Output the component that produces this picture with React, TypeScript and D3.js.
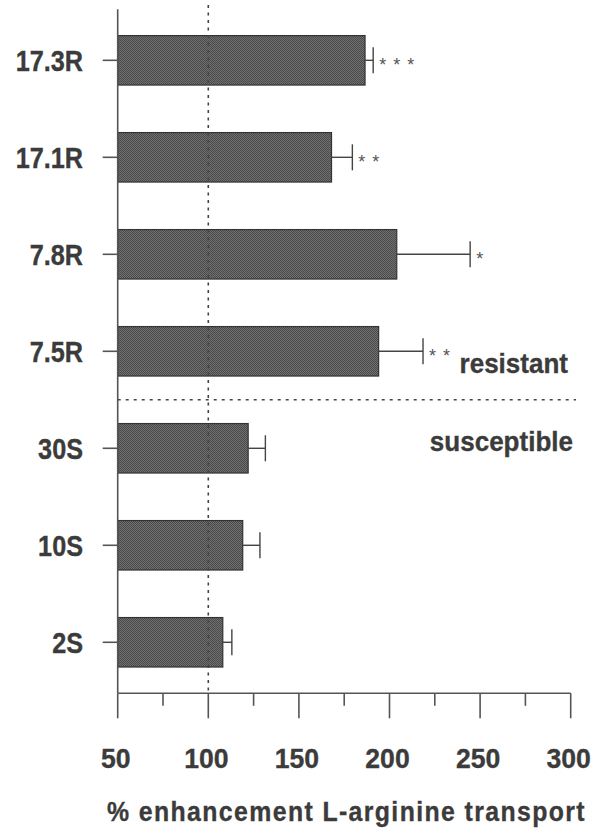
import React from "react";
import * as d3 from "d3";

// Cell lines, mean % enhancement and upper error limit, significance marks
const lines = ["17.3R", "17.1R", "7.8R", "7.5R", "30S", "10S", "2S"];
const means = [186.5, 168, 204, 194, 122, 119, 108];
const errors = [4.5, 11.5, 40.5, 24.5, 9.5, 9.5, 5];
const stars = ["* * *", "* *", "*", "* *", "", "", ""];
const majorTicks = [50, 100, 150, 200, 250, 300];
const minorTicks = [75, 125, 175, 225, 275];
const groupLabels = ["resistant", "susceptible"];
const baseline = 100;

const W = 603;
const H = 830;
const FONT = "'Liberation Sans', Arial, Helvetica, sans-serif";
const INK = "#3b3b3b";

// Bold label, horizontally condensed around its anchor point
function CText({
  x,
  y,
  size,
  sx = 1,
  anchor = "start",
  spacing = 0,
  children,
}: {
  x: number;
  y: number;
  size: number;
  sx?: number;
  anchor?: string;
  spacing?: number;
  children: React.ReactNode;
}) {
  return (
    <text
      transform={`translate(${x},${y}) scale(${sx},1)`}
      textAnchor={anchor}
      fontFamily={FONT}
      fontWeight="bold"
      fontSize={size}
      letterSpacing={spacing}
      fill={INK}
      stroke={INK}
      strokeWidth={0.35}
    >
      {children}
    </text>
  );
}

export default function App() {
  const x = d3.scaleLinear().domain([50, 300]).range([117.7, 570.7]);
  const y = d3
    .scaleBand<string>()
    .domain(lines)
    .range([9.3, 693.3])
    .paddingInner(0.49)
    .paddingOuter(0.271);
  const bw = y.bandwidth();
  const axisY = 693.3;
  const axisTop = 9.3;
  const sepY = (y("7.5R")! + bw + y("30S")!) / 2;

  return (
    <svg
      width={W}
      height={H}
      viewBox={`0 0 ${W} ${H}`}
      style={{ position: "absolute", left: 0, top: 0, background: "#fff" }}
    >
      <defs>
        <pattern id="stipple" width={2} height={2} patternUnits="userSpaceOnUse">
          <rect width={2} height={2} fill="#707070" />
          <rect width={1} height={1} fill="#4a4a4a" />
          <rect x={1} y={1} width={1} height={1} fill="#4a4a4a" />
        </pattern>
      </defs>

      {/* bars */}
      {lines.map((l, i) => (
        <rect
          key={l}
          x={x(50)}
          y={y(l)!}
          width={x(means[i]) - x(50)}
          height={bw}
          fill="url(#stipple)"
          stroke="#333"
          strokeWidth={1.2}
        />
      ))}

      {/* 100% reference line */}
      <line
        x1={x(baseline)}
        x2={x(baseline)}
        y1={5}
        y2={axisY}
        stroke="#444"
        strokeWidth={1.6}
        strokeDasharray="3,4.5"
      />

      {/* resistant / susceptible divider */}
      <line
        x1={x(50)}
        x2={576}
        y1={sepY}
        y2={sepY}
        stroke="#444"
        strokeWidth={1.4}
        strokeDasharray="3,5"
      />

      {/* error bars */}
      {lines.map((l, i) => {
        const cy = y(l)! + bw / 2;
        const xe = x(means[i] + errors[i]);
        return (
          <g key={l} stroke="#444" strokeWidth={1.4}>
            <line x1={x(means[i])} x2={xe} y1={cy} y2={cy} />
            <line x1={xe} x2={xe} y1={cy - 13} y2={cy + 13} />
          </g>
        );
      })}

      {/* significance marks */}
      {lines.map((l, i) =>
        stars[i] ? (
          <text
            key={l}
            x={x(means[i] + errors[i]) + 6}
            y={y(l)! + bw / 2 + 11}
            fontFamily={FONT}
            fontSize={18}
            letterSpacing={1}
            fill="#555"
            style={{ whiteSpace: "pre" }}
          >
            {stars[i]}
          </text>
        ) : null
      )}

      {/* y axis */}
      <line x1={x(50)} x2={x(50)} y1={axisTop} y2={axisY} stroke="#555" strokeWidth={1.6} />
      {lines.map((l) => (
        <g key={l}>
          <line
            x1={x(50) - 15}
            x2={x(50)}
            y1={y(l)! + bw / 2}
            y2={y(l)! + bw / 2}
            stroke="#555"
            strokeWidth={1.6}
          />
          <CText x={83} y={y(l)! + bw / 2 + 10.5} size={29} sx={0.87} anchor="end">
            {l}
          </CText>
        </g>
      ))}

      {/* x axis */}
      <line x1={x(50)} x2={x(300)} y1={axisY} y2={axisY} stroke="#555" strokeWidth={1.6} />
      {majorTicks.map((t) => (
        <g key={t}>
          <line x1={x(t)} x2={x(t)} y1={axisY} y2={axisY + 25} stroke="#555" strokeWidth={1.6} />
          <CText x={x(t) - 2} y={768} size={28} sx={0.95} anchor="middle">
            {t}
          </CText>
        </g>
      ))}
      {minorTicks.map((t) => (
        <line key={t} x1={x(t)} x2={x(t)} y1={axisY} y2={axisY + 12.5} stroke="#555" strokeWidth={1.6} />
      ))}

      {/* group labels */}
      <CText x={568} y={373} size={28} sx={0.93} anchor="end">
        {groupLabels[0]}
      </CText>
      <CText x={573} y={451} size={28} sx={0.93} anchor="end">
        {groupLabels[1]}
      </CText>

      {/* x axis title */}
      <CText x={346.5} y={821} size={27} sx={0.92} anchor="middle" spacing={1.5}>
        % enhancement L-arginine transport
      </CText>
    </svg>
  );
}
